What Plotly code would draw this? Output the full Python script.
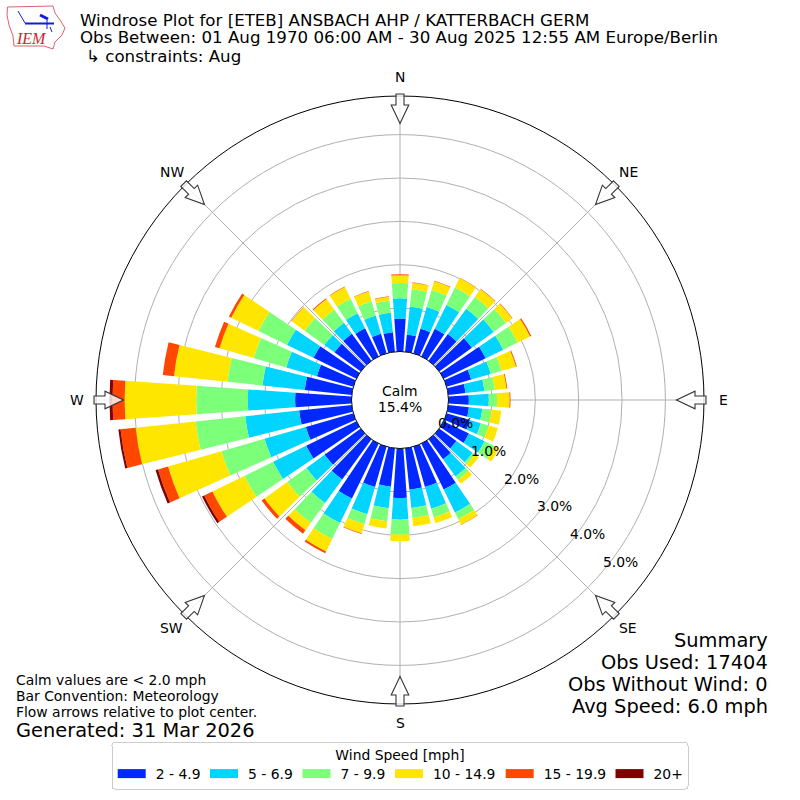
import math
import plotly.graph_objects as go

directions = [0, 10, 20, 30, 40, 50, 60, 70, 80, 90, 100, 110, 120, 130, 140, 150, 160, 170,
              180, 190, 200, 210, 220, 230, 240, 250, 260, 270, 280, 290, 300, 310, 320, 330, 340, 350]
bin_names = ["2 - 4.9", "5 - 6.9", "7 - 9.9", "10 - 14.9", "15 - 19.9", "20+"]
bin_colors = ["#0028FF", "#00D4FF", "#7CFF79", "#FFE600", "#FF4700", "#7F0000"]
speed_2_5 = [.76, .40, .59, .71, .76, .93, 1.08, .59, .40, .47, .48, .56, .65, .49, .57, 1.18, .97, .96,
             1.14, .89, .97, 1.41, 1.15, 1.03, 1.29, 1.14, 1.22, 1.30, 1.09, .875, 1.10, .75, .77, .72, .47, .455]
speed_5_7 = [.47, .65, .52, .61, .72, .62, .45, .47, .44, .46, .31, .26, .40, .46, .49, .59, .52, .425,
             .50, .50, .65, .625, .67, .52, .845, .99, 1.25, 1.09, .98, .735, .68, .29, .31, .39, .44, .45]
speed_7_10 = [.35, .40, .41, .45, .34, .35, .37, .26, .24, .19, .21, .19, .25, .06, .10, .17, .205, .23,
              .345, .30, .24, .41, .56, .545, .74, 1.035, 1.15, 1.19, .81, .78, .73, .56, .38, .37, .34, .28]
speed_10_15 = [.18, .15, .21, .24, .22, .18, .32, .345, .27, .29, .23, .22, .12, .115, .11, .14, .14, .195,
               .15, .17, .22, .32, .21, .65, .82, 1.28, 1.39, 1.65, 1.24, .82, .70, .37, .30, .30, .235, .09]
speed_15_20 = [.02, .01, .01, .01, .01, .01, .03, .02, .02, .02, 0, 0, 0, 0, 0, .01, 0, 0,
               0, 0, .015, .05, .10, .08, .21, .24, .35, .28, .26, .11, .06, .01, .02, .01, .01, .01]
speed_20_up = [0, 0, 0, 0, 0, 0, 0, 0, 0, 0, 0, 0, 0, 0, 0, 0, 0, 0,
               0, 0, 0, 0, 0, 0, .055, .06, .05, .07, 0, 0, 0, 0, 0, 0, 0, 0]
bin_values = [speed_2_5, speed_5_7, speed_7_10, speed_10_15, speed_15_20, speed_20_up]

compass_angles = [0, 45, 90, 135, 180, 225, 270, 315]
compass_names = ["N", "NE", "E", "SE", "S", "SW", "W", "NW"]
radial_ticks = [0, 1, 2, 3, 4, 5]

FONT = "DejaVu Sans"
W = 800.0


def px(x):
    return x / W


def py(y):
    return 1 - y / W


def pth(points, close=True):
    s = "M" + " L".join(f"{px(x):.5f},{py(y):.5f}" for x, y in points)
    return s + (" Z" if close else "")


fig = go.Figure()
for name, color, vals in zip(bin_names, bin_colors, bin_values):
    fig.add_trace(go.Barpolar(r=vals, theta=directions, width=8, name=name,
                              marker=dict(color=color, line=dict(width=0))))

shapes = []
arrow = [(-4, 306), (4, 306), (4, 295), (8.8, 295), (0, 276.5), (-8.8, 295), (-4, 295)]
for a in compass_angles:
    t = math.radians(a)
    pts = []
    for u, r in arrow:
        x = 400 + r * math.sin(t) + u * math.cos(t)
        y = 400 - r * math.cos(t) + u * math.sin(t)
        pts.append((x, y))
    shapes.append(dict(type="path", xref="paper", yref="paper", path=pth(pts),
                       fillcolor="rgba(255,255,255,0.8)", line=dict(color="#333333", width=1.1)))

iowa = [(7.5, 7), (53, 6), (55, 13), (60, 20), (65, 28), (62, 35), (55, 42), (53, 49), (44, 46), (14, 46), (13, 36), (9, 25), (7, 15)]
shapes.append(dict(type="path", xref="paper", yref="paper", path=pth(iowa),
                   fillcolor="rgba(0,0,0,0)", line=dict(color="#E06070", width=1)))
for seg, wid in [([(25, 23.5), (54, 23.5)], 2), ([(18, 11), (25, 23)], 1), ([(40, 15), (48, 19)], 3),
                 ([(47, 20), (47, 29)], 1), ([(50, 27), (52, 32)], 1)]:
    shapes.append(dict(type="path", xref="paper", yref="paper", path=pth(seg, False),
                       line=dict(color="#1020D0", width=wid)))

anns = []


def text(x, y, s, size, anchor="left", color="black", family=FONT):
    anns.append(dict(x=px(x), y=py(y), xref="paper", yref="paper", text=s, showarrow=False,
                     xanchor=anchor, yanchor="middle", align=anchor,
                     font=dict(family=family, size=size, color=color), borderpad=0))


for a, n in zip(compass_angles, compass_names):
    t = math.radians(a)
    text(400 + 323 * math.sin(t), 400 - 323 * math.cos(t), n, 13.9, "center")
for v in radial_ticks:
    text(455 + 33 * v, 423 + 27.8 * v, f"{v:.1f}%", 13.9, "center")

text(79, 38, "Obs Between: 01 Aug 1970 06:00 AM - 30 Aug 2025 12:55 AM Europe/Berlin", 16.67)
text(85, 56, "↳ constraints: Aug", 16.67)
text(400, 391, "Calm", 13.9, "center")
text(400, 407, "15.4%", 13.9, "center")
text(768.7, 640, "Summary", 19.4, "right")
text(768.7, 662, "Obs Used: 17404", 19.4, "right")
text(768.7, 684, "Obs Without Wind: 0", 19.4, "right")
text(768.7, 706, "Avg Speed: 6.0 mph", 19.4, "right")
text(15, 680, "Calm values are < 2.0 mph", 13.9)
text(15, 696, "Bar Convention: Meteorology", 13.9)
text(15, 712, "Flow arrows relative to plot center.", 13.9)
text(15, 730, "Generated: 31 Mar 2026", 19.4)
text(15, 39, "<i>IEM</i>", 16, color="#D02030", family="Liberation Serif")

fig.update_layout(
    width=800, height=800, margin=dict(l=0, r=0, t=0, b=0),
    paper_bgcolor="white", plot_bgcolor="white", font=dict(family=FONT, size=13.9, color="black"),
    title=dict(text="Windrose Plot for [ETEB] ANSBACH AHP / KATTERBACH GERM", x=0.1, xanchor="left",
               xref="paper", y=py(20), yanchor="middle", font=dict(family=FONT, size=16.67)),
    polar=dict(
        domain=dict(x=[96 / W, 704 / W], y=[96 / W, 704 / W]),
        hole=48.5 / 304, bgcolor="white", barmode="stack",
        angularaxis=dict(direction="clockwise", rotation=90, tickmode="array", tickvals=compass_angles,
                         ticktext=compass_names, showticklabels=False, ticks="", showline=True,
                         linecolor="black", linewidth=1, gridcolor="#b0b0b0", gridwidth=1.1),
        radialaxis=dict(range=[0, 5.89], angle=-40, tickmode="array", tickvals=radial_ticks,
                        showticklabels=False, ticks="", showline=False, gridcolor="#b0b0b0", gridwidth=1.1),
    ),
    legend=dict(orientation="h", x=0.5, xanchor="center", y=py(742), yanchor="top",
                title=dict(text="Wind Speed [mph]", side="top center", font=dict(family=FONT, size=13.9)),
                font=dict(family=FONT, size=13.9), bgcolor="white", bordercolor="#cccccc", borderwidth=1,
                traceorder="normal"),
    shapes=shapes, annotations=anns,
)

post = """
var swatchLefts = [117.7, 210, 302.5, 395, 505.7, 615.5];
var fixLegend = function () {
  document.body.style.margin = '0';
  var legend = document.querySelector('.legend');
  if (!legend) return;
  var m = /translate\\(([-\\d.]+)[, ]+([-\\d.]+)\\)/.exec(legend.getAttribute('transform'));
  var L = m ? parseFloat(m[1]) : 0;
  var box = legend.querySelector('.scrollbox');
  if (box) box.removeAttribute('clip-path');
  var bg = legend.querySelector('.bg');
  if (bg) {
    bg.setAttribute('x', 112 - L);
    bg.setAttribute('width', 576);
    bg.setAttribute('height', 46.5);
    bg.setAttribute('rx', 3);
  }
  var title = legend.querySelector('.legendtitletext');
  if (title) title.setAttribute('transform', 'translate(0,-1.5)');
  legend.querySelectorAll('.legendpoints path').forEach(function (p) {
    p.setAttribute('d', 'M10,4.5H-18V-4.5H10Z');
  });
  legend.querySelectorAll('.traces').forEach(function (t, i) {
    var tm = /translate\\(([-\\d.]+)[, ]+([-\\d.]+)\\)/.exec(t.getAttribute('transform'));
    if (!tm) return;
    if (t.__y0 === undefined) t.__y0 = parseFloat(tm[2]);
    t.setAttribute('transform', 'translate(' + (swatchLefts[i] - 2 - L) + ',' + (t.__y0 - 3) + ')');
  });
};
var gd = document.getElementById('{plot_id}');
fixLegend();
gd.on('plotly_afterplot', fixLegend);
setTimeout(fixLegend, 50);
setTimeout(fixLegend, 300);
"""
fig.write_html("out.html", post_script=post, config={"displayModeBar": False})
